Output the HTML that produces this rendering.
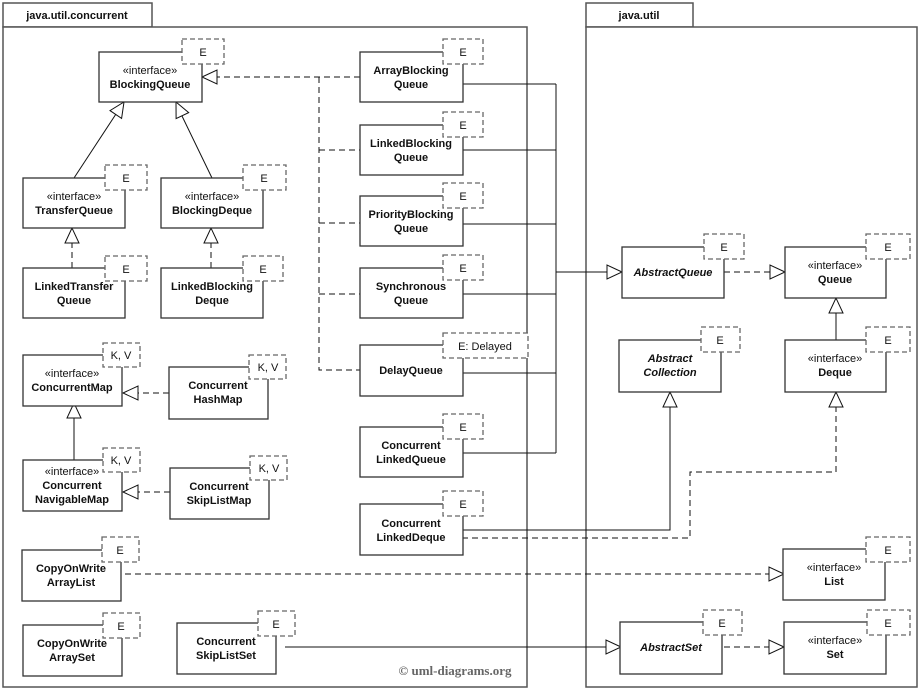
<!DOCTYPE html>
<html><head><meta charset="utf-8"><style>
html,body{margin:0;padding:0;background:#fff;}
svg{display:block;}
text{font-family:"Liberation Sans",Arial,sans-serif;font-size:11px;fill:#111;}
.b{font-weight:bold;}
.i{font-style:italic;font-weight:bold;}
.box{fill:#fff;stroke:#333;stroke-width:1.3;}
.tab{fill:#fff;stroke:#666;stroke-width:1.3;stroke-dasharray:5,3;}
.ln{fill:none;stroke:#111;stroke-width:1;}
.dl{fill:none;stroke:#111;stroke-width:1;stroke-dasharray:6,4;}
.ar{fill:#fff;stroke:#111;stroke-width:1;}
.pk{fill:#fff;stroke:#555;stroke-width:1.5;}
</style></head><body>
<svg width="920" height="690" viewBox="0 0 920 690" xmlns="http://www.w3.org/2000/svg">
<rect class="pk" x="3" y="3" width="149" height="24"/>
<rect class="pk" x="3" y="27" width="524" height="660"/>
<text class="b" x="77" y="19" text-anchor="middle">java.util.concurrent</text>
<rect class="pk" x="586" y="3" width="107" height="24"/>
<rect class="pk" x="586" y="27" width="331" height="660"/>
<text class="b" x="639" y="19" text-anchor="middle">java.util</text>

<g>
<line class="ln" x1="74" y1="178" x2="116" y2="114"/>
<line class="ln" x1="212" y1="178" x2="182" y2="116"/>
<line class="dl" x1="72" y1="268" x2="72" y2="228"/>
<line class="dl" x1="211" y1="268" x2="211" y2="228"/>
<line class="ln" x1="74" y1="460" x2="74" y2="403"/>
<line class="dl" x1="169" y1="393" x2="125" y2="393"/>
<line class="dl" x1="170" y1="492" x2="125" y2="492"/>
<line class="dl" x1="360" y1="77" x2="202" y2="77"/>
<polyline class="dl" points="319,77 319,370 360,370"/>
<line class="dl" x1="319" y1="150" x2="360" y2="150"/>
<line class="dl" x1="319" y1="223" x2="360" y2="223"/>
<line class="dl" x1="319" y1="294" x2="360" y2="294"/>
<line class="ln" x1="462" y1="84" x2="556" y2="84"/>
<line class="ln" x1="462" y1="150" x2="556" y2="150"/>
<line class="ln" x1="462" y1="224" x2="556" y2="224"/>
<line class="ln" x1="462" y1="294" x2="556" y2="294"/>
<line class="ln" x1="462" y1="373" x2="556" y2="373"/>
<line class="ln" x1="462" y1="453" x2="556" y2="453"/>
<line class="ln" x1="556" y1="84" x2="556" y2="453"/>
<line class="ln" x1="556" y1="272" x2="622" y2="272"/>
<line class="dl" x1="724" y1="272" x2="785" y2="272"/>
<line class="ln" x1="836" y1="340" x2="836" y2="298"/>
<polyline class="ln" points="462,530 670,530 670,392"/>
<polyline class="dl" points="462,538 690,538 690,472 836,472 836,392"/>
<line class="dl" x1="125" y1="574" x2="785" y2="574"/>
<line class="ln" x1="285" y1="647" x2="622" y2="647"/>
<line class="dl" x1="724" y1="647" x2="785" y2="647"/>
</g>
<g>
<polygon class="ar" points="124,102 121.6,118.4 110,110.6"/>
<polygon class="ar" points="176,102 188.7,112.6 176.1,118.6"/>
<polygon class="ar" points="72,228 65,243 79,243"/>
<polygon class="ar" points="211,228 204,243 218,243"/>
<polygon class="ar" points="74,403 67,418 81,418"/>
<polygon class="ar" points="123,393 138,386 138,400"/>
<polygon class="ar" points="123,492 138,485 138,499"/>
<polygon class="ar" points="202,77 217,70 217,84"/>
<polygon class="ar" points="622,272 607,265 607,279"/>
<polygon class="ar" points="785,272 770,265 770,279"/>
<polygon class="ar" points="836,298 829,313 843,313"/>
<polygon class="ar" points="670,392 663,407 677,407"/>
<polygon class="ar" points="836,392 829,407 843,407"/>
<polygon class="ar" points="784,574 769,567 769,581"/>
<polygon class="ar" points="621,647 606,640 606,654"/>
<polygon class="ar" points="784,647 769,640 769,654"/>
</g>

<g>
<rect class="box" x="99" y="52" width="103" height="50"/><rect class="tab" x="182" y="39" width="42" height="25"/><text x="203" y="56" text-anchor="middle">E</text>
<text x="150" y="74" text-anchor="middle">«interface»</text><text class="b" x="150" y="88" text-anchor="middle">BlockingQueue</text>

<rect class="box" x="23" y="178" width="102" height="50"/><rect class="tab" x="105" y="165" width="42" height="25"/><text x="126" y="182" text-anchor="middle">E</text>
<text x="74" y="200" text-anchor="middle">«interface»</text><text class="b" x="74" y="214" text-anchor="middle">TransferQueue</text>

<rect class="box" x="161" y="178" width="102" height="50"/><rect class="tab" x="243" y="165" width="43" height="25"/><text x="264" y="182" text-anchor="middle">E</text>
<text x="212" y="200" text-anchor="middle">«interface»</text><text class="b" x="212" y="214" text-anchor="middle">BlockingDeque</text>

<rect class="box" x="23" y="268" width="102" height="50"/><rect class="tab" x="105" y="256" width="42" height="25"/><text x="126" y="273" text-anchor="middle">E</text>
<text class="b" x="74" y="290" text-anchor="middle">LinkedTransfer</text><text class="b" x="74" y="304" text-anchor="middle">Queue</text>

<rect class="box" x="161" y="268" width="102" height="50"/><rect class="tab" x="243" y="256" width="40" height="25"/><text x="263" y="273" text-anchor="middle">E</text>
<text class="b" x="212" y="290" text-anchor="middle">LinkedBlocking</text><text class="b" x="212" y="304" text-anchor="middle">Deque</text>

<rect class="box" x="23" y="355" width="99" height="51"/><rect class="tab" x="103" y="343" width="37" height="24"/><text x="121" y="359" text-anchor="middle">K, V</text>
<text x="72" y="377" text-anchor="middle">«interface»</text><text class="b" x="72" y="391" text-anchor="middle">ConcurrentMap</text>

<rect class="box" x="169" y="367" width="99" height="52"/><rect class="tab" x="249" y="355" width="37" height="24"/><text x="268" y="371" text-anchor="middle">K, V</text>
<text class="b" x="218" y="389" text-anchor="middle">Concurrent</text><text class="b" x="218" y="403" text-anchor="middle">HashMap</text>

<rect class="box" x="23" y="460" width="99" height="51"/><rect class="tab" x="103" y="448" width="37" height="24"/><text x="121" y="464" text-anchor="middle">K, V</text>
<text x="72" y="475" text-anchor="middle">«interface»</text><text class="b" x="72" y="489" text-anchor="middle">Concurrent</text><text class="b" x="72" y="503" text-anchor="middle">NavigableMap</text>

<rect class="box" x="170" y="468" width="99" height="51"/><rect class="tab" x="250" y="456" width="37" height="24"/><text x="269" y="472" text-anchor="middle">K, V</text>
<text class="b" x="219" y="490" text-anchor="middle">Concurrent</text><text class="b" x="219" y="504" text-anchor="middle">SkipListMap</text>

<rect class="box" x="22" y="550" width="99" height="51"/><rect class="tab" x="102" y="537" width="37" height="25"/><text x="120" y="554" text-anchor="middle">E</text>
<text class="b" x="71" y="572" text-anchor="middle">CopyOnWrite</text><text class="b" x="71" y="586" text-anchor="middle">ArrayList</text>

<rect class="box" x="23" y="625" width="99" height="51"/><rect class="tab" x="103" y="613" width="37" height="25"/><text x="121" y="630" text-anchor="middle">E</text>
<text class="b" x="72" y="647" text-anchor="middle">CopyOnWrite</text><text class="b" x="72" y="661" text-anchor="middle">ArraySet</text>

<rect class="box" x="177" y="623" width="99" height="51"/><rect class="tab" x="258" y="611" width="37" height="25"/><text x="276" y="628" text-anchor="middle">E</text>
<text class="b" x="226" y="645" text-anchor="middle">Concurrent</text><text class="b" x="226" y="659" text-anchor="middle">SkipListSet</text>

<rect class="box" x="360" y="52" width="103" height="50"/><rect class="tab" x="443" y="39" width="40" height="25"/><text x="463" y="56" text-anchor="middle">E</text>
<text class="b" x="411" y="74" text-anchor="middle">ArrayBlocking</text><text class="b" x="411" y="88" text-anchor="middle">Queue</text>

<rect class="box" x="360" y="125" width="103" height="50"/><rect class="tab" x="443" y="112" width="40" height="25"/><text x="463" y="129" text-anchor="middle">E</text>
<text class="b" x="411" y="147" text-anchor="middle">LinkedBlocking</text><text class="b" x="411" y="161" text-anchor="middle">Queue</text>

<rect class="box" x="360" y="196" width="103" height="50"/><rect class="tab" x="443" y="183" width="40" height="25"/><text x="463" y="200" text-anchor="middle">E</text>
<text class="b" x="411" y="218" text-anchor="middle">PriorityBlocking</text><text class="b" x="411" y="232" text-anchor="middle">Queue</text>

<rect class="box" x="360" y="268" width="103" height="50"/><rect class="tab" x="443" y="255" width="40" height="25"/><text x="463" y="272" text-anchor="middle">E</text>
<text class="b" x="411" y="290" text-anchor="middle">Synchronous</text><text class="b" x="411" y="304" text-anchor="middle">Queue</text>

<rect class="box" x="360" y="345" width="103" height="51"/><rect class="tab" x="443" y="333" width="85" height="25"/><text x="485" y="350" text-anchor="middle">E: Delayed</text>
<text class="b" x="411" y="374" text-anchor="middle">DelayQueue</text>

<rect class="box" x="360" y="427" width="103" height="50"/><rect class="tab" x="443" y="414" width="40" height="25"/><text x="463" y="431" text-anchor="middle">E</text>
<text class="b" x="411" y="449" text-anchor="middle">Concurrent</text><text class="b" x="411" y="463" text-anchor="middle">LinkedQueue</text>

<rect class="box" x="360" y="504" width="103" height="51"/><rect class="tab" x="443" y="491" width="40" height="25"/><text x="463" y="508" text-anchor="middle">E</text>
<text class="b" x="411" y="527" text-anchor="middle">Concurrent</text><text class="b" x="411" y="541" text-anchor="middle">LinkedDeque</text>

<rect class="box" x="622" y="247" width="102" height="51"/><rect class="tab" x="704" y="234" width="40" height="25"/><text x="724" y="251" text-anchor="middle">E</text>
<text class="i" x="673" y="276" text-anchor="middle">AbstractQueue</text>

<rect class="box" x="785" y="247" width="101" height="51"/><rect class="tab" x="866" y="234" width="44" height="25"/><text x="888" y="251" text-anchor="middle">E</text>
<text x="835" y="269" text-anchor="middle">«interface»</text><text class="b" x="835" y="283" text-anchor="middle">Queue</text>

<rect class="box" x="619" y="340" width="102" height="52"/><rect class="tab" x="701" y="327" width="39" height="25"/><text x="720" y="344" text-anchor="middle">E</text>
<text class="i" x="670" y="362" text-anchor="middle">Abstract</text><text class="i" x="670" y="376" text-anchor="middle">Collection</text>

<rect class="box" x="785" y="340" width="101" height="52"/><rect class="tab" x="866" y="327" width="44" height="25"/><text x="888" y="344" text-anchor="middle">E</text>
<text x="835" y="362" text-anchor="middle">«interface»</text><text class="b" x="835" y="376" text-anchor="middle">Deque</text>

<rect class="box" x="783" y="549" width="102" height="51"/><rect class="tab" x="866" y="537" width="44" height="25"/><text x="888" y="554" text-anchor="middle">E</text>
<text x="834" y="571" text-anchor="middle">«interface»</text><text class="b" x="834" y="585" text-anchor="middle">List</text>

<rect class="box" x="620" y="622" width="102" height="52"/><rect class="tab" x="703" y="610" width="39" height="25"/><text x="722" y="627" text-anchor="middle">E</text>
<text class="i" x="671" y="651" text-anchor="middle">AbstractSet</text>

<rect class="box" x="784" y="622" width="102" height="52"/><rect class="tab" x="867" y="610" width="43" height="25"/><text x="888" y="627" text-anchor="middle">E</text>
<text x="835" y="644" text-anchor="middle">«interface»</text><text class="b" x="835" y="658" text-anchor="middle">Set</text>
</g>
<text x="455" y="675" text-anchor="middle" style="font-family:'Liberation Serif','DejaVu Serif',serif;font-size:13px;fill:#666;font-weight:bold;">© uml-diagrams.org</text>
</svg>
</body></html>
